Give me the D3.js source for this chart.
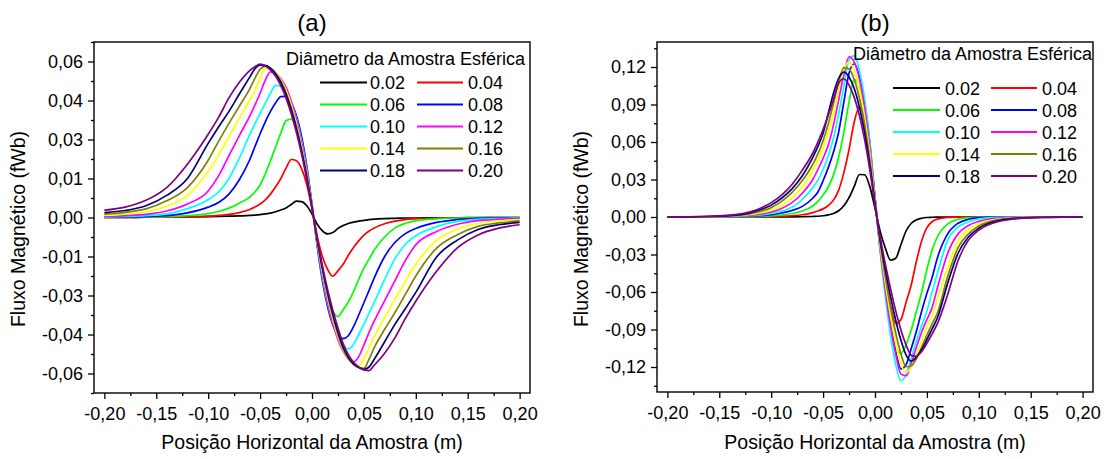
<!DOCTYPE html>
<html lang="pt">
<head>
<meta charset="UTF-8">
<title>Fluxo Magnético vs Posição</title>
<script src="https://d3js.org/d3.v7.min.js"></script>
<style>
  body { margin: 0; background: #fff; }
  svg { display: block; font-family: "Liberation Sans", Arial, sans-serif; }
</style>
</head>
<body>
<svg id="chart" width="1106" height="459"></svg>
<script>
// sample positions (m), shared by every curve
const positions = [-0.20,-0.18,-0.16,-0.14,-0.12,-0.10,-0.09,-0.08,-0.07,-0.06,-0.055,-0.05,-0.045,-0.04,-0.035,-0.03,-0.025,-0.02,-0.015,-0.01,-0.005,0,
  0.005,0.01,0.015,0.02,0.025,0.03,0.035,0.04,0.045,0.05,0.055,0.06,0.07,0.08,0.09,0.10,0.12,0.14,0.16,0.18,0.20];

const diameters = ["0.02","0.04","0.06","0.08","0.10","0.12","0.14","0.16","0.18","0.20"];
const colors = ["#000000","#ff0000","#00ff00","#0000ff","#00ffff","#ff00ff","#ffff00","#808000","#000080","#800080"];

// panel (a) flux, fWb
const a02 = [0,0,0.0001,0.0001,0.0002,0.0003,0.0004,0.0005,0.0006,0.0008,0.0009,0.0011,0.0014,0.0017,0.0022,0.0029,0.0037,0.0050,0.0063,0.0061,0.0045,0.0013,
  -0.0026,-0.0051,-0.0063,-0.0058,-0.0042,-0.0031,-0.0023,-0.0018,-0.0014,-0.0011,-0.0008,-0.0006,-0.0004,-0.0003,-0.0002,-0.0002,-0.0001,-0.0001,0,0,0];
const a04 = [0,0,0.0001,0.0001,0.0002,0.0005,0.0008,0.0012,0.0019,0.0031,0.0040,0.0052,0.0068,0.0090,0.0118,0.0150,0.0190,0.0223,0.0218,0.0187,0.0126,0.0034,
  -0.0071,-0.0150,-0.0199,-0.0226,-0.0205,-0.0180,-0.0145,-0.0115,-0.0090,-0.0068,-0.0052,-0.0040,-0.0024,-0.0014,-0.0008,-0.0005,-0.0002,-0.0001,-0.0001,0,0];
const a06 = [0,0.0001,0.0001,0.0003,0.0007,0.0015,0.0023,0.0036,0.0055,0.0078,0.0098,0.0125,0.0168,0.0218,0.0272,0.0325,0.0372,0.0378,0.0346,0.0283,0.0184,0.0048,
  -0.0102,-0.0224,-0.0308,-0.0359,-0.0381,-0.0355,-0.0325,-0.0285,-0.0238,-0.0195,-0.0160,-0.0125,-0.0075,-0.0040,-0.0022,-0.0012,-0.0005,-0.0002,-0.0001,0,0];
const a08 = [0.0001,0.0002,0.0003,0.0007,0.0018,0.0040,0.0058,0.0090,0.0145,0.0222,0.0272,0.0322,0.0368,0.0408,0.0441,0.0465,0.0466,0.0442,0.0392,0.0311,0.0197,0.0051,
  -0.0109,-0.0243,-0.0343,-0.0412,-0.0452,-0.0466,-0.0455,-0.0420,-0.0375,-0.0328,-0.0280,-0.0232,-0.0150,-0.0095,-0.0062,-0.0042,-0.0019,-0.0008,-0.0003,-0.0002,-0.0001];
const a10 = [0.0002,0.0004,0.0007,0.0014,0.0034,0.0068,0.0098,0.0150,0.0228,0.0319,0.0360,0.0400,0.0440,0.0478,0.0508,0.0505,0.0485,0.0444,0.0381,0.0295,0.0183,0.0046,
  -0.0101,-0.0228,-0.0329,-0.0406,-0.0460,-0.0495,-0.0505,-0.0488,-0.0450,-0.0410,-0.0368,-0.0326,-0.0238,-0.0158,-0.0103,-0.0070,-0.0035,-0.0015,-0.0007,-0.0004,-0.0002];
const a12 = [0.0004,0.0007,0.0012,0.0025,0.0052,0.0102,0.0160,0.0238,0.0315,0.0390,0.0432,0.0478,0.0528,0.0560,0.0555,0.0535,0.0501,0.0447,0.0377,0.0286,0.0175,0.0044,
  -0.0096,-0.0219,-0.0322,-0.0405,-0.0470,-0.0515,-0.0545,-0.0555,-0.0535,-0.0490,-0.0442,-0.0398,-0.0320,-0.0242,-0.0165,-0.0105,-0.0054,-0.0026,-0.0012,-0.0007,-0.0004];
const a14 = [0.0008,0.0013,0.0022,0.0043,0.0085,0.0178,0.0240,0.0312,0.0381,0.0452,0.0488,0.0535,0.0572,0.0571,0.0558,0.0531,0.0490,0.0434,0.0361,0.0272,0.0165,0.0041,
  -0.0091,-0.0208,-0.0308,-0.0390,-0.0460,-0.0510,-0.0545,-0.0565,-0.0571,-0.0545,-0.0500,-0.0458,-0.0385,-0.0315,-0.0245,-0.0180,-0.0088,-0.0044,-0.0023,-0.0013,-0.0008];
const a16 = [0.0013,0.0020,0.0033,0.0064,0.0115,0.0220,0.0293,0.0362,0.0428,0.0495,0.0535,0.0570,0.0582,0.0574,0.0555,0.0524,0.0480,0.0421,0.0349,0.0261,0.0158,0.0039,
  -0.0087,-0.0199,-0.0296,-0.0378,-0.0450,-0.0505,-0.0542,-0.0565,-0.0577,-0.0580,-0.0545,-0.0500,-0.0430,-0.0365,-0.0295,-0.0225,-0.0118,-0.0066,-0.0034,-0.0021,-0.0013];
const a18 = [0.0019,0.0027,0.0045,0.0085,0.0150,0.0285,0.0348,0.0408,0.0475,0.0540,0.0572,0.0586,0.0585,0.0574,0.0552,0.0519,0.0473,0.0414,0.0341,0.0255,0.0154,0.0038,
  -0.0084,-0.0194,-0.0289,-0.0370,-0.0440,-0.0498,-0.0538,-0.0563,-0.0577,-0.0584,-0.0575,-0.0545,-0.0478,-0.0410,-0.0350,-0.0288,-0.0152,-0.0087,-0.0046,-0.0028,-0.0019];
const a20 = [0.0028,0.0040,0.0066,0.0115,0.0205,0.0320,0.0385,0.0460,0.0520,0.0565,0.0580,0.0590,0.0583,0.0568,0.0543,0.0507,0.0459,0.0399,0.0327,0.0244,0.0146,0.0036,
  -0.0080,-0.0185,-0.0277,-0.0356,-0.0425,-0.0485,-0.0528,-0.0557,-0.0575,-0.0586,-0.0589,-0.0568,-0.0522,-0.0462,-0.0388,-0.0322,-0.0207,-0.0117,-0.0067,-0.0041,-0.0028];

// panel (b) flux, fWb
const b02 = [0,0,0,0,0,0,0.0001,0.0001,0.0002,0.0004,0.0006,0.0010,0.0017,0.0028,0.0050,0.0090,0.0155,0.0245,0.0340,0.0338,0.0243,0.0069,
  -0.0115,-0.0250,-0.0345,-0.0330,-0.0220,-0.0110,-0.0050,-0.0022,-0.0010,-0.0004,-0.0002,-0.0001,0,0,0,0,0,0,0,0,0];
const b04 = [0,0,0,0,0.0001,0.0003,0.0006,0.0010,0.0018,0.0035,0.0048,0.0065,0.0092,0.0135,0.0215,0.0355,0.0540,0.0760,0.0880,0.0781,0.0535,0.0146,
  -0.0218,-0.0491,-0.0709,-0.0852,-0.0820,-0.0680,-0.0540,-0.0350,-0.0190,-0.0085,-0.0038,-0.0017,-0.0004,-0.0001,0,0,0,0,0,0,0];
const b06 = [0,0,0,0.0001,0.0003,0.0009,0.0016,0.0028,0.0048,0.0088,0.0125,0.0175,0.0240,0.0335,0.0480,0.0680,0.0920,0.1100,0.1040,0.0862,0.0564,0.0149,
  -0.0257,-0.0582,-0.0850,-0.1043,-0.1090,-0.1020,-0.0900,-0.0752,-0.0600,-0.0420,-0.0265,-0.0160,-0.0055,-0.0018,-0.0006,-0.0002,0,0,0,0,0];
const b08 = [0,0,0,0.0002,0.0006,0.0018,0.0032,0.0052,0.0085,0.0150,0.0200,0.0290,0.0395,0.0520,0.0680,0.0920,0.1150,0.1226,0.1125,0.0913,0.0589,0.0153,
  -0.0254,-0.0578,-0.0856,-0.1077,-0.1215,-0.1180,-0.1050,-0.0910,-0.0752,-0.0610,-0.0485,-0.0330,-0.0135,-0.0050,-0.0018,-0.0007,-0.0001,0,0,0,0];
const b10 = [0,0,0.0001,0.0003,0.0010,0.0028,0.0048,0.0078,0.0140,0.0235,0.0295,0.0380,0.0490,0.0630,0.0825,0.1045,0.1260,0.1290,0.1170,0.0941,0.0603,0.0155,
  -0.0282,-0.0642,-0.0946,-0.1181,-0.1310,-0.1260,-0.1130,-0.0990,-0.0870,-0.0752,-0.0600,-0.0455,-0.0185,-0.0080,-0.0040,-0.0015,-0.0003,-0.0001,0,0,0];
const b12 = [0,0,0.0001,0.0004,0.0014,0.0040,0.0068,0.0115,0.0190,0.0300,0.0380,0.0470,0.0575,0.0735,0.0935,0.1140,0.1282,0.1239,0.1103,0.0874,0.0553,0.0143,
  -0.0254,-0.0585,-0.0870,-0.1100,-0.1257,-0.1270,-0.1170,-0.1040,-0.0920,-0.0820,-0.0725,-0.0570,-0.0290,-0.0135,-0.0068,-0.0035,-0.0008,-0.0002,-0.0001,0,0];
const b14 = [0,0,0.0002,0.0006,0.0020,0.0055,0.0090,0.0150,0.0240,0.0370,0.0455,0.0555,0.0680,0.0830,0.1020,0.1180,0.1239,0.1170,0.1025,0.0803,0.0503,0.0128,
  -0.0229,-0.0530,-0.0793,-0.1012,-0.1176,-0.1243,-0.1200,-0.1100,-0.0990,-0.0880,-0.0790,-0.0660,-0.0400,-0.0190,-0.0100,-0.0057,-0.0015,-0.0004,-0.0001,0,0];
const b16 = [0,0.0001,0.0003,0.0008,0.0027,0.0075,0.0125,0.0195,0.0292,0.0420,0.0505,0.0610,0.0745,0.0910,0.1080,0.1195,0.1184,0.1100,0.0951,0.0737,0.0459,0.0115,
  -0.0208,-0.0481,-0.0724,-0.0930,-0.1095,-0.1198,-0.1190,-0.1130,-0.1040,-0.0945,-0.0855,-0.0770,-0.0475,-0.0245,-0.0135,-0.0072,-0.0020,-0.0006,-0.0002,0,0];
const b18 = [0,0.0001,0.0004,0.0011,0.0035,0.0095,0.0150,0.0225,0.0330,0.0475,0.0565,0.0670,0.0830,0.0990,0.1110,0.1159,0.1120,0.1028,0.0879,0.0676,0.0418,0.0104,
  -0.0182,-0.0423,-0.0639,-0.0828,-0.0986,-0.1105,-0.1153,-0.1120,-0.1060,-0.0980,-0.0895,-0.0810,-0.0530,-0.0290,-0.0160,-0.0090,-0.0026,-0.0008,-0.0003,-0.0001,0];
const b20 = [0.0001,0.0002,0.0006,0.0015,0.0042,0.0115,0.0175,0.0260,0.0375,0.0510,0.0600,0.0700,0.0815,0.0940,0.1070,0.1106,0.1055,0.0957,0.0812,0.0619,0.0380,0.0095,
  -0.0162,-0.0380,-0.0576,-0.0753,-0.0904,-0.1025,-0.1107,-0.1115,-0.1075,-0.1010,-0.0935,-0.0855,-0.0620,-0.0350,-0.0185,-0.0105,-0.0034,-0.0011,-0.0004,-0.0001,0];

const fluxA = [a02, a04, a06, a08, a10, a12, a14, a16, a18, a20];
const fluxB = [b02, b04, b06, b08, b10, b12, b14, b16, b18, b20];

// ticks
const xTicks = [-0.20,-0.15,-0.10,-0.05,0,0.05,0.10,0.15,0.20];
const xTickLabels = ["-0,20","-0,15","-0,10","-0,05","0,00","0,05","0,10","0,15","0,20"];
const xMinor = [-0.175,-0.125,-0.075,-0.025,0.025,0.075,0.125,0.175];
const yTicksA = [-0.06,-0.045,-0.03,-0.015,0,0.015,0.03,0.045,0.06];
const yTickLabelsA = ["-0,06","-0,04","-0,03","-0,01","0,00","0,01","0,03","0,04","0,06"];
const yMinorA = [-0.0675,-0.0525,-0.0375,-0.0225,-0.0075,0.0075,0.0225,0.0375,0.0525,0.0675];
const yTicksB = [-0.12,-0.09,-0.06,-0.03,0,0.03,0.06,0.09,0.12];
const yTickLabelsB = ["-0,12","-0,09","-0,06","-0,03","0,00","0,03","0,06","0,09","0,12"];
const yMinorB = [-0.135,-0.105,-0.075,-0.045,-0.015,0.015,0.045,0.075,0.105,0.135];

const svg = d3.select("#chart");

function drawPanel(p) {
  const g = svg.append("g").attr("transform", `translate(${p.left},${p.top})`);
  const x = d3.scaleLinear().domain([-0.21, 0.21]).range([0, p.width]);
  const y = d3.scaleLinear().domain(p.yDomain).range([p.height, 0]);

  // minor ticks
  g.append("g").attr("transform", `translate(0,${p.height})`)
    .call(d3.axisBottom(x).tickValues(xMinor).tickSize(3).tickFormat(""))
    .call(s => s.select(".domain").remove());
  g.append("g")
    .call(d3.axisLeft(y).tickValues(p.yMinor).tickSize(3).tickFormat(""))
    .call(s => s.select(".domain").remove());

  // major ticks
  const xa = g.append("g").attr("transform", `translate(0,${p.height})`)
    .call(d3.axisBottom(x).tickValues(xTicks).tickSize(6).tickPadding(8)
      .tickFormat((d, i) => xTickLabels[i]));
  const ya = g.append("g")
    .call(d3.axisLeft(y).tickValues(p.yTicks).tickSize(6).tickPadding(5)
      .tickFormat((d, i) => p.yLabels[i]));
  [xa, ya].forEach(a => {
    a.select(".domain").remove();
    a.selectAll("text").attr("font-size", 18).attr("fill", "#000")
      .attr("font-family", "Liberation Sans, Arial, sans-serif");
  });
  g.selectAll(".tick line").attr("stroke", "#000").attr("stroke-width", 1.3);

  // curves
  const line = d3.line()
    .x((d, i) => x(positions[i]))
    .y(d => y(d))
    .curve(d3.curveMonotoneX);
  g.selectAll("path.curve")
    .data(p.flux)
    .enter()
    .append("path")
    .attr("class", "curve")
    .attr("d", line)
    .attr("fill", "none")
    .attr("stroke", (d, i) => colors[i])
    .attr("stroke-width", 1.7)
    .attr("stroke-linejoin", "round");

  // frame
  g.append("rect")
    .attr("width", p.width).attr("height", p.height)
    .attr("fill", "none").attr("stroke", "#000").attr("stroke-width", 1.4);

  // legend
  const lg = g.append("g").attr("transform", `translate(${p.width},0)`);
  lg.append("text")
    .attr("x", p.legTitleX).attr("y", p.legTitleY)
    .attr("text-anchor", "end").attr("font-size", 18)
    .text("Diâmetro da Amostra Esférica");
  diameters.forEach((lab, i) => {
    const col = i % 2, row = Math.floor(i / 2);
    const ly = p.legRowY + row * 22;
    const c = p.legCols[col];
    lg.append("line")
      .attr("x1", c[0]).attr("x2", c[1]).attr("y1", ly).attr("y2", ly)
      .attr("stroke", colors[i]).attr("stroke-width", 2);
    lg.append("text")
      .attr("x", c[2]).attr("y", ly + 6.5)
      .attr("font-size", 18).text(lab);
  });

  // titles
  svg.append("text")
    .attr("x", p.left + p.width / 2).attr("y", 31)
    .attr("text-anchor", "middle").attr("font-size", 24)
    .text(p.letter);
  svg.append("text")
    .attr("x", p.left + p.width / 2).attr("y", 449)
    .attr("text-anchor", "middle").attr("font-size", 19.5)
    .text("Posição Horizontal da Amostra (m)");
  svg.append("text")
    .attr("transform", `translate(${p.left - 69},229) rotate(-90)`)
    .attr("text-anchor", "middle").attr("font-size", 19.5)
    .text("Fluxo Magnético (fWb)");
}

drawPanel({
  left: 94, top: 42, width: 436, height: 351,
  yDomain: [-0.0675, 0.0675], yTicks: yTicksA, yLabels: yTickLabelsA, yMinor: yMinorA,
  flux: fluxA, letter: "(a)",
  legTitleX: -5, legTitleY: 23, legRowY: 40.5,
  legCols: [[-210, -163, -160], [-113, -67, -62]]
});

drawPanel({
  left: 657, top: 42, width: 436, height: 350,
  yDomain: [-0.14, 0.14], yTicks: yTicksB, yLabels: yTickLabelsB, yMinor: yMinorB,
  flux: fluxB, letter: "(b)",
  legTitleX: -1, legTitleY: 18, legRowY: 46,
  legCols: [[-200, -153, -148], [-102, -56, -51]]
});
</script>
</body>
</html>
